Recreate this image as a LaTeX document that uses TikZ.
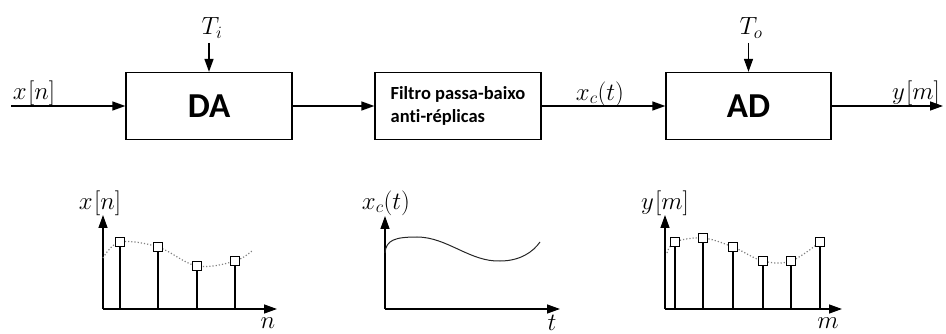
\documentclass[tikz,border=0pt]{standalone}
\usepackage{fontspec}
\setsansfont[Ligatures=NoCommon]{Carlito}
\usetikzlibrary{arrows.meta}
\tikzset{
  arr/.style={line width=1.4pt,-{Triangle[length=13pt,width=9pt]}},
  blk/.style={draw,line width=1.3pt,minimum width=166pt,minimum height=67pt,inner sep=0pt},
  big/.style={font=\sffamily\bfseries\fontsize{35}{40}\selectfont},
  ftext/.style={font=\sffamily\bfseries\fontsize{18.5}{23}\selectfont,align=left},
  lab/.style={font=\fontsize{23}{26}\selectfont,inner sep=0pt},
  stem/.style={line width=1.3pt},
  sq/.style={draw,fill=white,line width=1.1pt,minimum size=9pt,inner sep=0pt},
  dotc/.style={gray,dotted,line width=1.2pt},
}
\begin{document}
\begin{tikzpicture}[x=1pt,y=-1pt]
\useasboundingbox (0,0) rectangle (946,334);
% blocks
\node[blk,big] (da) at (209,106) {DA};
\node[blk,ftext] (filt) at (458,106) {Filtro passa-baixo\\anti-réplicas};
\node[blk,big,minimum width=165pt] (ad) at (748.5,106) {AD};
% inputs
\coordinate (in) at (11,106);
\coordinate (out) at (943,106);
\coordinate (tis) at (209,43);
\coordinate (tos) at (748.5,43);
\node[lab] (ti) at (212,28) {$T_i$};
\node[lab] (to) at (751,28) {$T_o$};
\draw[arr] (in) -- (da);
\draw[arr] (da) -- (filt);
\draw[arr] (filt) -- (ad);
\draw[arr] (ad) -- (out);
\draw[arr] (tis) -- (da.north);
\draw[arr] (tos) -- (ad.north);
\node[lab] (lxn) at (34,93) {$x\mkern1mu[n]$};
\node[lab] (lxc) at (600,94) {$x_c(t)$};
\node[lab] (lym) at (916,93) {$y\mkern1mu[m]$};
% plot 1
\coordinate (o1) at (103,309);
\coordinate (y1) at (103,215);
\coordinate (x1) at (277,309);
\draw[arr] (o1) -- (y1);
\draw[arr] (o1) -- (x1);
\node[lab] (p1y) at (100,203) {$x\mkern1mu[n]$};
\node[lab] (p1x) at (268,323) {$n$};
\draw[dotc] plot[smooth,tension=0.6] coordinates {(103,258) (120,242) (158,247) (197,266) (235,261) (253,250)};
\foreach \i/\x/\y in {a/120/242,b/158/247,c/197/266,d/235/261}{
  \coordinate (b1\i) at (\x,309);
  \node[sq] (s1\i) at (\x,\y) {};
  \draw[stem] (b1\i) -- (s1\i.south);
}
% plot 2
\coordinate (o2) at (385,309);
\coordinate (y2) at (385,216);
\coordinate (x2) at (560,309);
\draw[arr] (o2) -- (y2);
\draw[arr] (o2) -- (x2);
\node[lab] (p2y) at (386,203) {$x_c(t)$};
\node[lab] (p2x) at (552,323) {$t$};
\draw[line width=1pt,black!85] (385,253) .. controls (386,240) and (395,237) .. (417,237) .. controls (447,237) and (470,262) .. (500,261) .. controls (520,261) and (533,252) .. (540,242);
% plot 3
\coordinate (o3) at (665,309);
\coordinate (y3) at (665,215);
\coordinate (x3) at (842,309);
\draw[arr] (o3) -- (y3);
\draw[arr] (o3) -- (x3);
\node[lab] (p3y) at (665,203) {$y\mkern1mu[m]$};
\node[lab] (p3x) at (828,323) {$m$};
\draw[dotc] plot[smooth,tension=0.6] coordinates {(667,253) (675,242) (703,238) (733,247) (763,261) (791,261) (820,242)};
\foreach \i/\x/\y in {a/675/242,b/703/238,c/733/247,d/763/261,e/791/261,f/820/242}{
  \coordinate (b3\i) at (\x,309);
  \node[sq] (s3\i) at (\x,\y) {};
  \draw[stem] (b3\i) -- (s3\i.south);
}
\end{tikzpicture}
\end{document}
